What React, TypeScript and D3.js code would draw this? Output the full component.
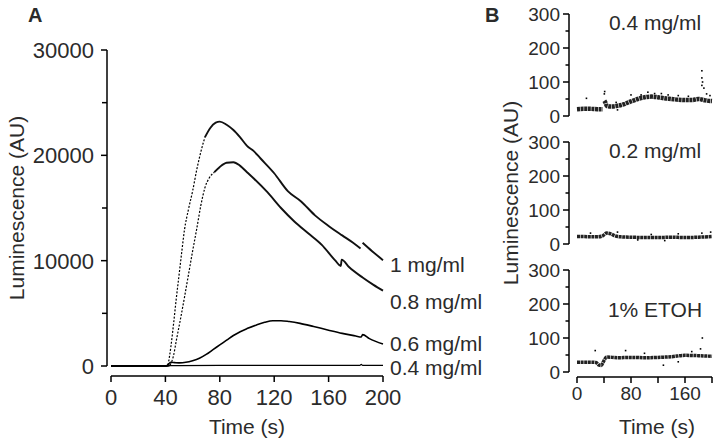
import React from "react";
import * as d3 from "d3";

type P = [number, number] | null;

// Panel A series: [time (s), luminescence (AU)]
const seriesA1mg: P[] = [
  [0, 0], [20, 0], [40, 0], [42, 100], [44, 1800], [46, 4000], [48, 6400], [50, 8600], [52, 10800],
  [54, 12900], [57, 14900], [60, 16600], [63, 18600], [66, 20300], [69, 21700], [73, 22600],
  [77, 23100], [80, 23200], [85, 22900], [90, 22400], [95, 21700], [100, 20900], [105, 20400],
  [110, 19700], [120, 18300], [130, 16600], [140, 15600], [150, 14300], [160, 13300],
  [170, 12400], [178, 11700], [183.5, 11150], null, [185, 11700], [192, 10900], [200, 10050],
];
const seriesA08mg: P[] = [
  [0, 0], [20, 0], [42, 0], [43.5, 100], [46, 1000], [48, 2400], [51, 4400], [54, 6500],
  [57, 8700], [60, 10900], [63, 13000], [66, 15200], [69, 16900], [72, 17800], [76, 18400],
  [80, 18900], [85, 19300], [90, 19350], [95, 19000], [100, 18400], [105, 17800], [115, 16500],
  [125, 15000], [135, 13700], [145, 12600], [155, 11500], [165, 10000], [169, 9500],
  [169.6, 10100], [175, 9400], [185, 8400], [193, 7700], [200, 7150],
];
const seriesA06mg: P[] = [
  [0, 0], [20, 0], [41, 0], [42, 150], [44, 350], [47, 320], [50, 300], [55, 350], [60, 500],
  [65, 730], [70, 1100], [75, 1550], [80, 2000], [85, 2450], [90, 2900], [95, 3260], [100, 3550],
  [107, 3900], [113, 4150], [119, 4300], [125, 4300], [131, 4220], [139, 4050], [149, 3750],
  [160, 3400], [170, 3100], [180, 2850], [184, 2750], [185, 2980], [190, 2600], [200, 2080],
];
const seriesA04mg: P[] = [
  [0, 20], [50, 40], [100, 60], [150, 60], [183, 60], [184, 150], [185, 60], [200, 60],
];
const seriesALabels = ["1 mg/ml", "0.8 mg/ml", "0.6 mg/ml", "0.4 mg/ml"];
const seriesALabelValues = [9600, 6100, 2100, -100];
// which series have a fast (sparsely sampled, dotted-looking) rise
const seriesAFastRise = [true, true, false, false];

const xTicksA = [0, 40, 80, 120, 160, 200];
const yTicksA = [0, 10000, 20000, 30000];
const yMinorTicksA = [5000, 15000, 25000];

// Panel B series (median trace + scattered outlying points)
const bTop: P[] = [
  [0, 20], [10, 21], [20, 21], [30, 20], [38, 20], null,
  [40.5, 45], [42, 40], [44, 30], [50, 28], [60, 30], [70, 35], [80, 43], [90, 50], [100, 55],
  [110, 57], [120, 55], [130, 52], [140, 50], [150, 48], [160, 47], [170, 47], [180, 50],
  [190, 46], [200, 44],
];
const bTopOut: [number, number][] = [
  [14, 52], [40.5, 65], [41, 72], [58, 40], [80, 62], [105, 70], [125, 66], [135, 62],
  [185, 90], [185, 112], [185, 133], [186, 100], [188, 82], [192, 65], [197, 60], [60, 18],
  [95, 62], [115, 66], [150, 60], [165, 58],
];
const bMid: P[] = [
  [0, 22], [10, 22], [20, 21], [30, 21], [38, 24], [44, 32], [50, 30], [56, 24], [65, 21],
  [80, 20], [100, 19], [120, 19], [140, 20], [160, 19], [180, 20], [200, 22],
];
const bMidOut: [number, number][] = [
  [20, 32], [60, 35], [110, 28], [150, 30], [185, 32], [198, 35], [130, 10], [90, 12],
];
const bBot: P[] = [
  [0, 29], [10, 29], [20, 29], [28, 28], [33, 20], [36, 19], [39, 30], [44, 44], [60, 42],
  [80, 43], [100, 42], [120, 43], [140, 45], [160, 49], [180, 48], [200, 46],
];
const bBotOut: [number, number][] = [
  [27, 63], [72, 63], [183, 68], [185.7, 100], [128, 20], [100, 55], [170, 60], [150, 30],
];
const bLabels = ["0.4 mg/ml", "0.2 mg/ml", "1% ETOH"];
const xTicksB = [0, 40, 80, 120, 160, 200];
const xTickLabelsB = [0, 80, 160];
const yTicksB = [0, 100, 200, 300];
const yMinorTicksB = [50, 150, 250];

const FONT = "'Liberation Sans', Arial, sans-serif";
const TXT = "#2b2b2b";

export default function App() {
  const xA = d3.scaleLinear().domain([0, 200]).range([111, 383]);
  const yA = d3.scaleLinear().domain([0, 30000]).range([366, 50]);
  const lineA = d3
    .line<P>()
    .defined((d) => d !== null)
    .x((d) => xA((d as [number, number])[0]))
    .y((d) => yA((d as [number, number])[1]))
    .curve(d3.curveMonotoneX);

  const xB = d3.scaleLinear().domain([0, 200]).range([577, 712]);
  const bTops = [14, 142, 270];
  const bH = 102;
  const bSeries = [bTop, bMid, bBot];
  const bOut = [bTopOut, bMidOut, bBotOut];

  const seriesA = [seriesA1mg, seriesA08mg, seriesA06mg, seriesA04mg];

  const segs = seriesA.map((s, i) => {
    if (!seriesAFastRise[i]) return { base: s, rise: [] as P[], decay: [] as P[] };
    const vals = s.map((d) => (d ? d[1] : -1));
    const peak = d3.maxIndex(vals);
    const start = vals.findIndex((v) => v > 200);
    return {
      base: s.slice(0, start),
      rise: s.slice(start - 1, peak - 2),
      decay: s.slice(peak - 3),
    };
  });

  return (
    <svg width={720} height={445} style={{ position: "absolute", left: 0, top: 0, background: "#fff" }} fontFamily={FONT}>
      {/* Panel A */}
      <text x={28} y={22} fontSize={20} fontWeight="bold" fill={TXT}>A</text>
      <line x1={107} x2={107} y1={yA(30000)} y2={yA(0)} stroke="#000" strokeWidth={1.5} />
      {yTicksA.map((t) => (
        <g key={"ya" + t}>
          <line x1={101} x2={107} y1={yA(t)} y2={yA(t)} stroke="#000" strokeWidth={1.5} />
          <text x={94} y={yA(t)} dy="0.36em" textAnchor="end" fontSize={22} fill={TXT}>{t}</text>
        </g>
      ))}
      {yMinorTicksA.map((t) => (
        <line key={"yma" + t} x1={102} x2={107} y1={yA(t)} y2={yA(t)} stroke="#000" strokeWidth={1.5} />
      ))}
      <text transform={`translate(16,${(yA(0) + yA(30000)) / 2}) rotate(-90)`} dy="0.36em" textAnchor="middle" fontSize={21} fill={TXT}>
        Luminescence (AU)
      </text>
      <line x1={xA(0)} x2={xA(200)} y1={376} y2={376} stroke="#000" strokeWidth={1.5} />
      {xTicksA.map((t) => (
        <g key={"xa" + t}>
          <line x1={xA(t)} x2={xA(t)} y1={376} y2={382} stroke="#000" strokeWidth={1.5} />
          <text x={xA(t)} y={405} textAnchor="middle" fontSize={22} fill={TXT}>{t}</text>
        </g>
      ))}
      <text x={(xA(0) + xA(200)) / 2} y={434} textAnchor="middle" fontSize={21} fill={TXT}>Time (s)</text>
      {segs.map((sg, i) => (
        <g key={"sa" + i}>
          <path d={lineA(sg.base) || ""} fill="none" stroke="#000" strokeWidth={i === 3 ? 1.3 : 1.6} />
          {sg.rise.length > 0 && (
            <path d={lineA(sg.rise) || ""} fill="none" stroke="#000" strokeWidth={1.2} strokeDasharray="2,1.6" />
          )}
          {sg.decay.length > 0 && (
            <path d={lineA(sg.decay) || ""} fill="none" stroke="#111" strokeWidth={1.9} />
          )}
        </g>
      ))}
      {seriesALabels.map((l, i) => (
        <text key={"la" + i} x={390} y={yA(seriesALabelValues[i])} dy="0.36em" fontSize={21} fill={TXT}>{l}</text>
      ))}

      {/* Panel B */}
      <text x={485} y={22} fontSize={20} fontWeight="bold" fill={TXT}>B</text>
      <text transform={`translate(510,193) rotate(-90)`} dy="0.36em" textAnchor="middle" fontSize={21} fill={TXT}>
        Luminescence (AU)
      </text>
      {bTops.map((top, i) => {
        const yB = d3.scaleLinear().domain([0, 300]).range([top + bH, top]);
        const lineB = d3
          .line<P>()
          .defined((d) => d !== null)
          .x((d) => xB((d as [number, number])[0]))
          .y((d) => yB((d as [number, number])[1]))
          .curve(d3.curveMonotoneX);
        return (
          <g key={"pb" + i}>
            <line x1={569} x2={569} y1={yB(300)} y2={yB(0)} stroke="#000" strokeWidth={1.5} />
            {yTicksB.map((t) => (
              <g key={"yb" + t}>
                <line x1={563} x2={569} y1={yB(t)} y2={yB(t)} stroke="#000" strokeWidth={1.5} />
                <text x={560} y={yB(t)} dy="0.36em" textAnchor="end" fontSize={19} fill={TXT}>{t}</text>
              </g>
            ))}
            {yMinorTicksB.map((t) => (
              <line key={"ymb" + t} x1={565.5} x2={569} y1={yB(t)} y2={yB(t)} stroke="#000" strokeWidth={1.5} />
            ))}
            <path d={lineB(bSeries[i]) || ""} fill="none" stroke="#222" strokeWidth={i === 0 ? 4.5 : 3.5} strokeDasharray="3,0.6" />
            {bOut[i].map((p, j) => (
              <rect key={"o" + j} x={xB(p[0]) - 0.8} y={yB(p[1]) - 0.8} width={1.6} height={1.6} fill="#000" />
            ))}
            <text x={655} y={i === 2 ? yB(185) : yB(275)} dy="0.36em" textAnchor="middle" fontSize={21} fill={TXT}>{bLabels[i]}</text>
          </g>
        );
      })}
      <line x1={xB(0)} x2={xB(200)} y1={377} y2={377} stroke="#000" strokeWidth={1.5} />
      {xTicksB.map((t) => (
        <line key={"xb" + t} x1={xB(t)} x2={xB(t)} y1={377} y2={383} stroke="#000" strokeWidth={1.5} />
      ))}
      {xTickLabelsB.map((t) => (
        <text key={"xbl" + t} x={xB(t)} y={400} textAnchor="middle" fontSize={19} fill={TXT}>{t}</text>
      ))}
      <text x={657} y={434} textAnchor="middle" fontSize={21} fill={TXT}>Time (s)</text>
    </svg>
  );
}
